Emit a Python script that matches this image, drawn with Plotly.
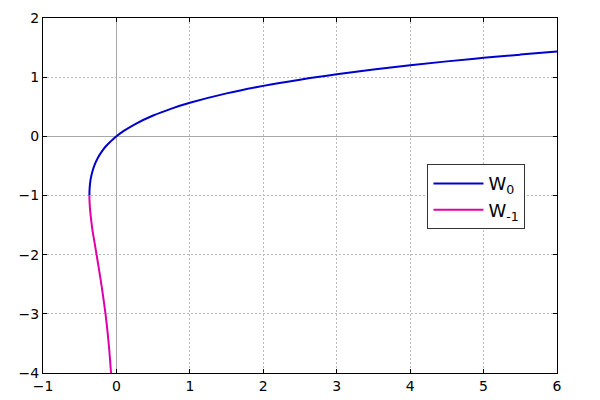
import plotly.graph_objects as go

# W0 branch (principal)
w0_x = [-0.3679, -0.367, -0.365, -0.36, -0.35, -0.33, -0.3, -0.25, -0.2, -0.15, -0.1, -0.05, 0.0,
        0.1, 0.25, 0.5, 0.75, 1.0, 1.5, 2.0, 2.5, 3.0, 3.5, 4.0, 4.5, 5.0, 5.5, 6.0]
w0_y = [-1.0, -0.933, -0.880, -0.807, -0.717, -0.607, -0.489, -0.357, -0.259, -0.176, -0.112, -0.053, 0.0,
        0.091, 0.204, 0.352, 0.469, 0.567, 0.726, 0.853, 0.958, 1.050, 1.131, 1.202, 1.267, 1.327, 1.381, 1.432]

# W-1 branch
wm1_x = [-0.3679, -0.367, -0.365, -0.36, -0.35, -0.33, -0.3, -0.25, -0.2, -0.15, -0.12, -0.1, -0.0733]
wm1_y = [-1.0, -1.071, -1.130, -1.222, -1.350, -1.555, -1.781, -2.153, -2.543, -2.990, -3.316, -3.577, -4.0]

x_ticks = [-1, 0, 1, 2, 3, 4, 5, 6]
y_ticks = [-4, -3, -2, -1, 0, 1, 2]

fig = go.Figure()
fig.add_trace(go.Scatter(x=w0_x, y=w0_y, mode="lines", name="W<sub>0</sub>",
                         line=dict(color="#0000CC", width=2, shape="spline")))
fig.add_trace(go.Scatter(x=wm1_x, y=wm1_y, mode="lines", name="W<sub>-1</sub>",
                         line=dict(color="#DD00AA", width=2, shape="spline")))

axis_common = dict(showline=True, linecolor="black", linewidth=1, mirror="allticks",
                   ticks="inside", ticklen=4, tickcolor="black", automargin=False,
                   showgrid=True, gridcolor="#bcbcbc", griddash="2px,2px", gridwidth=1,
                   zeroline=True, zerolinecolor="#a8a8a8", zerolinewidth=1,
                   tickfont=dict(family="DejaVu Sans", size=14, color="black"))

fig.update_xaxes(range=[-1, 6], tickvals=x_ticks,
                 ticktext=[("\u2212" + str(-v)) if v < 0 else str(v) for v in x_ticks], **axis_common)
fig.update_yaxes(range=[-4, 2], tickvals=y_ticks,
                 ticktext=[("\u2212" + str(-v)) if v < 0 else str(v) for v in y_ticks], **axis_common)

fig.update_layout(
    width=600, height=400,
    margin=dict(l=43, r=43, t=18, b=27),
    plot_bgcolor="white", paper_bgcolor="white",
    font=dict(family="DejaVu Sans", size=14, color="black"),
    legend=dict(x=0.748, y=0.588, xanchor="left", yanchor="top",
                bordercolor="#333333", borderwidth=1, bgcolor="white",
                font=dict(size=18), tracegroupgap=0, itemwidth=50),
    showlegend=True,
)

fig.write_html("out.html", config={"displayModeBar": False},
               post_script="document.body.style.margin='0';document.body.style.padding='0';")
